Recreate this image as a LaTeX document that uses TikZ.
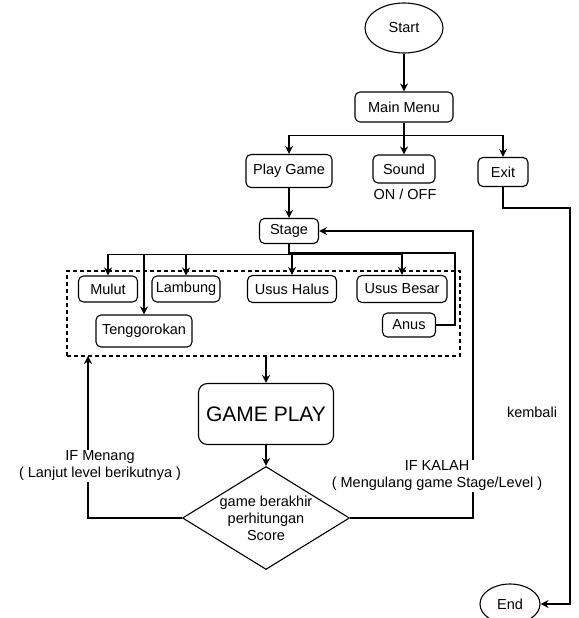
\documentclass[tikz,border=0pt]{standalone}
\usepackage{fontspec}
\setmainfont{Liberation Sans}
\usetikzlibrary{arrows.meta,shapes.geometric}

\begin{document}
\begin{tikzpicture}[x=1pt, y=-1pt,
    box/.style={draw, rounded corners=5pt, line width=1.1pt, inner sep=0pt, font=\fontsize{14.5}{17}\selectfont},
    oval/.style={draw, ellipse, line width=1.1pt, inner sep=0pt, font=\fontsize{14.5}{17}\selectfont},
    decision/.style={draw, diamond, line width=1.1pt, inner sep=0pt, align=center, font=\fontsize{14.5}{17}\selectfont},
    group/.style={draw, dash pattern=on 4pt off 3pt, line width=1.1pt, inner sep=0pt},
    lbl/.style={align=center, font=\fontsize{14.5}{17}\selectfont},
    flowarrow/.style={-{Stealth[length=8pt,width=8pt]}, line width=1.1pt},
    flowline/.style={line width=1.1pt}
]
    \useasboundingbox (0,0) rectangle (578,618);

    % Menu part
    \node[oval, minimum width=78, minimum height=50] (start) at (404,28) {Start};
    \node[box, minimum width=98, minimum height=30] (menu) at (404,107) {Main Menu};
    \node[box, minimum width=86, minimum height=33] (play) at (289,171) {Play Game};
    \node[box, minimum width=62, minimum height=28] (sound) at (404,169) {Sound};
    \node[lbl] (onoff) at (405,194) {ON / OFF};
    \node[box, minimum width=50, minimum height=29] (exit) at (503,172) {Exit};
    \node[box, minimum width=59, minimum height=25] (stage) at (289,231) {Stage};

    % Stage group
    \node[group, minimum width=393, minimum height=85] (grp) at (263.5,313.5) {};
    \node[box, minimum width=59, minimum height=26] (mulut) at (108,289) {Mulut};
    \node[box, minimum width=68, minimum height=26] (lambung) at (186,289) {Lambung};
    \node[box, minimum width=89, minimum height=27] (halus) at (292,289) {Usus Halus};
    \node[box, minimum width=90, minimum height=27] (besar) at (402,289) {Usus Besar};
    \node[box, minimum width=96, minimum height=32] (tengg) at (144,331) {Tenggorokan};
    \node[box, minimum width=53, minimum height=24] (anus) at (409,325) {Anus};

    % Game part
    \node[box, rounded corners=9pt, minimum width=135, minimum height=61, font=\fontsize{21}{24}\selectfont] (gp) at (266,414) {GAME PLAY};
    \node[decision, minimum width=167, minimum height=103, aspect=1.62] (dec) at (266,518) {game berakhir\\perhitungan\\Score};
    \node[oval, minimum width=60, minimum height=40] (endn) at (510,604) {End};

    \coordinate (busR) at (455,253);
    \coordinate (winUp) at (88,356);
    \coordinate (loseTurn) at (473,231);
    \coordinate (backR) at (570,208);

    % Arrows
    \draw[flowarrow] (start) -- (menu);
    \draw[flowarrow] (menu.south) -- ++(0,13) -| (play.north);
    \draw[flowarrow] (menu.south) -- ++(0,13) -| (sound.north);
    \draw[flowarrow] (menu.south) -- ++(0,13) -| (exit.north);
    \draw[flowarrow] (play) -- (stage);
    \draw[flowarrow] (stage.south) -- ++(0,10) -| (mulut.north);
    \draw[flowarrow] (stage.south) -- ++(0,10) -| (tengg.north);
    \draw[flowarrow] (stage.south) -- ++(0,10) -| (lambung.north);
    \draw[flowarrow] (stage.south) -- ++(0,10) -| (halus.north);
    \draw[flowarrow] (stage.south) -- ++(0,10) -| (besar.north);
    \draw[flowline] (stage.south) |- (busR) |- (anus.east);
    \draw[flowarrow] (gp.north |- grp.south) -- (gp.north);
    \draw[flowarrow] (gp) -- (dec);
    \draw[flowarrow] (dec.west) -| (winUp);
    \draw[flowarrow] (dec.east) -| (loseTurn) -- (stage.east);
    \draw[flowarrow] (exit.south) |- (backR) |- (endn.east);

    % Labels
    \node[lbl, fill=white, inner sep=1pt] (win) at (100,466) {IF Menang\\( Lanjut level berikutnya )};
    \node[lbl, fill=white, inner sep=1pt] (lose) at (437,476) {IF KALAH\\( Mengulang game Stage/Level )};
    \node[lbl] (back) at (532,412) {kembali};
\end{tikzpicture}
\end{document}
